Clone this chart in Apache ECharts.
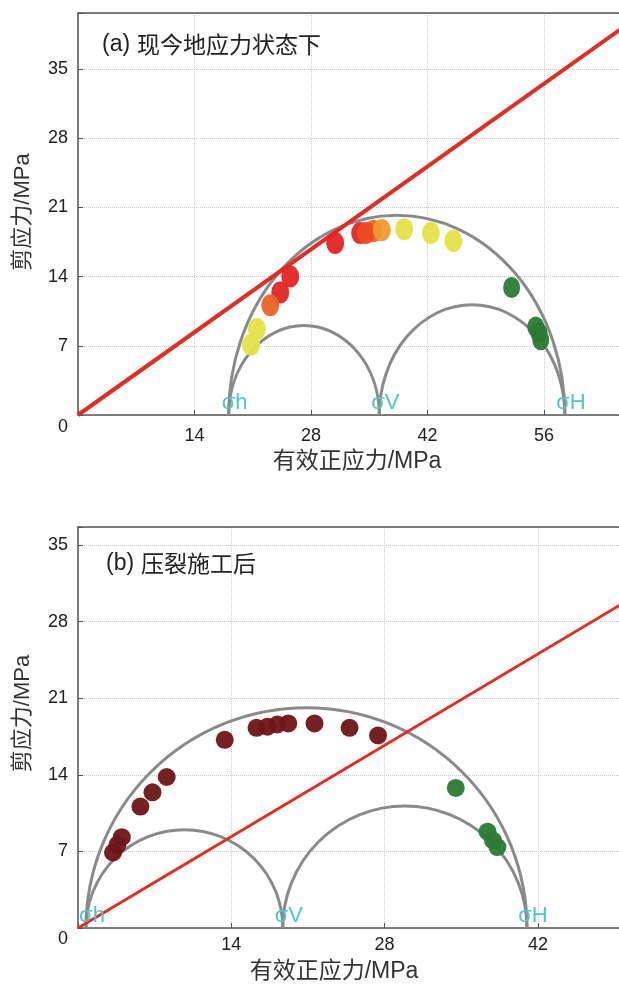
<!DOCTYPE html>
<html><head><meta charset="utf-8">
<script src="https://cdn.jsdelivr.net/npm/echarts@6/dist/echarts.min.js"></script>
<style>html,body{margin:0;padding:0;background:#fff;overflow:hidden}#c{width:619px;height:984px}</style>
</head><body><div id="c"></div>
<script>
// ---------- data ----------
const titleA = ['(a)', '现今地应力状态下'];
const titleB = ['(b)', '压裂施工后'];
const xName = '有效正应力/MPa';
const yName = '剪应力/MPa';
const xTicks = [0, 14, 28, 42, 56];
const yTicks = [0, 7, 14, 21, 28, 35];
const stressLabels = ['σh', 'σV', 'σH'];
// principal effective stresses (σh, σV, σH)
const stressA = [18.1, 36.2, 58.5];
const stressB = [0.73, 18.7, 41.0];
// failure envelope end points
const failA = [[0, 0], [65.5, 39.2]];
const failB = [[0, 0], [49.8, 29.7]];
// panel (a) points grouped by colour
const yellowA = [[20.8, 7.1], [21.5, 8.7], [39.2, 18.8], [42.4, 18.4], [45.1, 17.6]];
const lightOrangeA = [[36.5, 18.7]];
const orangeA = [[23.1, 11.1], [35.5, 18.6]];
const redOrangeA = [[34.6, 18.4]];
const redA = [[24.3, 12.4], [25.5, 14.0], [30.9, 17.4], [33.9, 18.4]];
const greenA = [[52.1, 12.9], [55.0, 8.9], [55.4, 8.3], [55.6, 7.6]];
// panel (b) points
const darkRedB = [[3.2, 6.9], [3.6, 7.6], [4.0, 8.3], [5.7, 11.1], [6.8, 12.4], [8.1, 13.8],
  [13.4, 17.2], [16.3, 18.3], [17.3, 18.4], [18.2, 18.6], [19.2, 18.7], [21.6, 18.7],
  [24.8, 18.3], [27.4, 17.6]];
const greenB = [[34.5, 12.8], [37.4, 8.8], [37.9, 8.0], [38.3, 7.4]];
// axis ranges
const xMaxA = 65.48, yMaxA = 40.66;
const xMaxB = 49.77, yMaxB = 36.65;

// ---------- styles ----------
const LAT = "'Liberation Sans', Arial, sans-serif";
const CJK = "'Noto Sans CJK SC', sans-serif";
const FONT = "'Liberation Sans', 'Noto Sans CJK SC', sans-serif";
const AXIS = '#555';
const GRIDC = '#c9c9c9';
const CYAN = '#52c6c6';

function xAxisMain(grid, max, margin, nameGap, namePad) {
  return {
    gridIndex: grid, type: 'value', min: 0, max: max, interval: 14, position: 'bottom',
    axisLine: { show: true, onZero: false, lineStyle: { color: AXIS, width: 1.5 } },
    axisTick: { show: true, inside: true, length: 5, lineStyle: { color: AXIS } },
    axisLabel: {
      margin: margin, fontSize: 18, color: '#222', fontFamily: LAT,
      formatter: v => (v !== 0 && xTicks.includes(v)) ? String(v) : ''
    },
    splitLine: { show: true, lineStyle: { type: 'dotted', color: GRIDC, width: 1 } },
    name: xName, nameLocation: 'middle', nameGap: nameGap,
    nameTextStyle: { fontSize: 23, color: '#333', fontFamily: FONT, padding: namePad }
  };
}
function xAxisTop(grid, max) {
  return {
    gridIndex: grid, type: 'value', min: 0, max: max, position: 'top',
    axisLine: { show: true, onZero: false, lineStyle: { color: AXIS, width: 1.5 } },
    axisTick: { show: false }, axisLabel: { show: false }, splitLine: { show: false }
  };
}
function yAxisMain(grid, max, zeroPad, namePad) {
  return {
    gridIndex: grid, type: 'value', min: 0, max: max, interval: 7,
    axisLine: { show: true, onZero: false, lineStyle: { color: AXIS, width: 1.5 } },
    axisTick: { show: true, inside: true, length: 5, lineStyle: { color: AXIS } },
    axisLabel: {
      margin: 10, fontSize: 18, color: '#222', fontFamily: LAT,
      formatter: v => v === 0 ? '{z|0}' : (yTicks.includes(v) ? String(v) : ''),
      rich: { z: { fontSize: 18, color: '#222', fontFamily: LAT, padding: [zeroPad, 0, 0, 0] } }
    },
    splitLine: { show: true, lineStyle: { type: 'dotted', color: GRIDC, width: 1 } },
    name: yName, nameLocation: 'middle', nameGap: 44,
    nameTextStyle: { fontSize: 22, color: '#333', fontFamily: FONT, padding: namePad }
  };
}

function mohrSeries(stress, axisIdx) {
  const pairs = [[stress[0], stress[1]], [stress[1], stress[2]], [stress[0], stress[2]]];
  return {
    type: 'custom', xAxisIndex: axisIdx, yAxisIndex: axisIdx / 2, data: pairs, z: 2,
    clip: true, silent: true,
    renderItem(params, api) {
      const a = api.value(0), b = api.value(1);
      const p1 = api.coord([a, 0]), p2 = api.coord([b, 0]);
      const top = api.coord([(a + b) / 2, (b - a) / 2]);
      const rx = (p2[0] - p1[0]) / 2, ry = p1[1] - top[1];
      return {
        type: 'path',
        shape: { pathData: `M${p1[0]} ${p1[1]} A${rx} ${ry} 0 0 1 ${p2[0]} ${p2[1]}` },
        style: { fill: 'none', stroke: '#8a8a8c', lineWidth: 3 }
      };
    }
  };
}
function pts(data, color, size, axisIdx) {
  return {
    type: 'scatter', xAxisIndex: axisIdx, yAxisIndex: axisIdx / 2, data: data,
    symbol: 'circle', symbolSize: size, z: 4, silent: true,
    itemStyle: { color: color, opacity: 0.95 }
  };
}
function failLine(data, width, axisIdx) {
  return {
    type: 'line', xAxisIndex: axisIdx, yAxisIndex: axisIdx / 2, data: data,
    showSymbol: false, z: 3, silent: true,
    lineStyle: { color: '#e42b24', width: width }
  };
}
function stressLbl(stress, axisIdx) {
  return {
    type: 'scatter', xAxisIndex: axisIdx, yAxisIndex: axisIdx / 2,
    data: stress.map(s => [s, 0]), symbolSize: 2, z: 6, silent: true, clip: false,
    itemStyle: { color: 'rgba(0,0,0,0)' },
    label: {
      show: true, position: 'top', distance: 0, offset: [0, 4],
      padding: [0, 0, 0, 12],
      formatter: p => stressLabels[p.dataIndex],
      fontSize: 22, color: CYAN, fontFamily: LAT, opacity: 1
    },
    labelLayout: { hideOverlap: false }
  };
}
function titleOf(t, left, top) {
  return {
    left: left, top: top, text: `{p|${t[0]}}{c|${t[1]}}`,
    textStyle: {
      fontWeight: 'normal',
      rich: {
        p: { fontSize: 23, color: '#222', fontFamily: LAT, fontWeight: 'normal' },
        c: { fontSize: 23, color: '#222', fontFamily: CJK, fontWeight: 'normal', padding: [0, 0, 0, 7] }
      }
    }
  };
}

const chart = echarts.init(document.getElementById('c'), null, { renderer: 'canvas' });
chart.setOption({
  animation: false,
  backgroundColor: '#fff',
  textStyle: { fontFamily: FONT },
  title: [titleOf(titleA, 97, 28), titleOf(titleB, 101, 547)],
  grid: [
    { left: 78, top: 13, width: 545, height: 402, containLabel: false, outerBoundsMode: 'none' },
    { left: 78, top: 527, width: 545, height: 401, containLabel: false, outerBoundsMode: 'none' }
  ],
  xAxis: [
    xAxisMain(0, xMaxA, 12, 35, [0, 0, 0, 13]), xAxisTop(0, xMaxA),
    xAxisMain(1, xMaxB, 8, 32, [0, 33, 0, 0]), xAxisTop(1, xMaxB)
  ],
  yAxis: [
    yAxisMain(0, yMaxA, 24, [0, 0, 0, 4]),
    yAxisMain(1, yMaxB, 22, [0, 0, 0, 28])
  ],
  series: [
    mohrSeries(stressA, 0),
    failLine(failA, 4, 0),
    pts(greenA, '#2b7a34', [17, 21], 0),
    pts(redA, '#e42424', [18, 22], 0),
    pts(orangeA, '#ea6226', [18, 22], 0),
    pts(redOrangeA, '#ee4a24', [18, 22], 0),
    pts(lightOrangeA, '#f29a2e', [18, 22], 0),
    pts(yellowA, '#e4e346', [18, 22], 0),
    stressLbl(stressA, 0),

    mohrSeries(stressB, 2),
    failLine(failB, 3, 2),
    pts(darkRedB, '#6e1518', 18, 2),
    pts(greenB, '#2b7a34', 18, 2),
    stressLbl(stressB, 2)
  ]
});
</script>
</body></html>
